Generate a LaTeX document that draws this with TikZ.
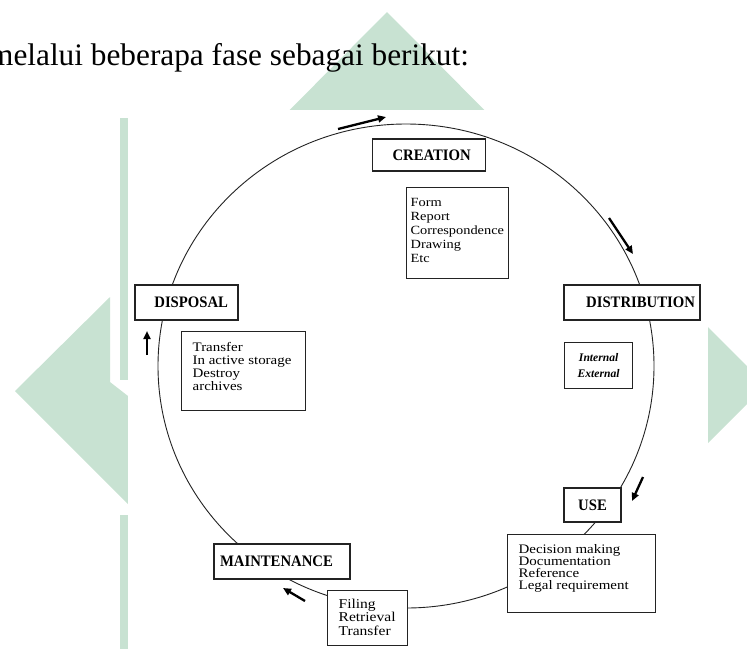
\documentclass[tikz,border=0pt]{standalone}
\usepackage{fontspec}
\setmainfont{Liberation Serif}
\newfontfamily\wideserif[FakeStretch=1.15]{Liberation Serif}
\newfontfamily\narrowserif[FakeStretch=0.92]{Liberation Serif}
\usetikzlibrary{arrows.meta}
\definecolor{wm}{RGB}{200,226,210}
\definecolor{ln}{RGB}{35,35,35}
\newcommand\lbbox[4]{\parbox[c][#1][t]{#2}{\raggedright\vspace*{#3}#4}}
\begin{document}
\begin{tikzpicture}[x=1pt,y=-1pt,
  phase/.style={draw=ln, line width=1.3pt, fill=white, inner ysep=0pt,
    font=\fontsize{16}{16}\narrowserif\bfseries},
  listbox/.style={draw=ln, line width=1.3pt, fill=white, inner ysep=0pt,
    anchor=north west, font=\fontsize{13}{13}\wideserif},
  flow/.style={draw=black, line width=2.3pt, -{Triangle[length=8pt,width=7pt]}},
  cycleline/.style={draw=ln, line width=0.9pt}
]
\useasboundingbox (0,0) rectangle (747,649);
% watermark background
\fill[wm] (387,12) -- (240,160) -- (534,160) -- cycle;
\fill[wm] (700,319) -- (766,385) -- (700,451) -- cycle;
\fill[wm] (110,297) -- (15,391) -- (128,504) -- (128,396) -- (110,382) -- cycle;
\fill[wm] (120,118) rectangle (128,380);
\fill[wm] (120,515) rectangle (128,649);
\fill[white] (128,110) rectangle (708,649);

% intro text
\node[anchor=base west, inner sep=0pt, font=\fontsize{31.3}{36}\selectfont] (intro) at (-11,65)
  {melalui beberapa fase sebagai berikut:};

% cycle
\draw[cycleline] (406,366) ellipse [x radius=248, y radius=242];

% phase boxes
\node[phase, minimum height=32pt, inner xsep=15pt, text width=83pt, align=right] (creation) at (429.3,155) {CREATION};
\node[phase, minimum height=35pt, inner xsep=5pt, text width=126pt, align=right] (distribution) at (632,302.5) {DISTRIBUTION};
\node[phase, minimum height=34pt, minimum width=57pt, inner xsep=0pt] (use) at (592.5,505) {USE};
\node[phase, minimum height=35pt, inner xsep=6pt, text width=124pt, align=left] (maintenance) at (282,561.5) {MAINTENANCE};
\node[phase, minimum height=35pt, inner xsep=10pt, text width=83pt, align=right] (disposal) at (186.5,302.5) {DISPOSAL};

% content boxes
\node[listbox, inner xsep=4pt, font=\fontsize{12.5}{13.9}\wideserif] (forms) at (406,187)
  {\lbbox{91pt}{94pt}{11pt}{Form\\Report\\Correspondence\\Drawing\\Etc}};
\node[listbox, minimum width=68pt, minimum height=46pt, inner xsep=4pt, text width=60pt, align=center,
  font=\fontsize{11.6}{16}\selectfont\bfseries\itshape] (channels) at (564,342)
  {Internal\\External};
\node[listbox, inner xsep=11pt, font=\fontsize{13}{12.2}\wideserif] (purposes) at (507,534)
  {\lbbox{78pt}{126pt}{9.5pt}{Decision making\\Documentation\\Reference\\Legal requirement}};
\node[listbox, inner xsep=11pt, font=\fontsize{13.5}{13.9}\wideserif] (handling) at (327,590)
  {\lbbox{55pt}{58pt}{8pt}{Filing\\Retrieval\\Transfer}};
\node[listbox, inner xsep=11pt, font=\fontsize{13}{13}\wideserif] (final) at (181,331)
  {\lbbox{79pt}{102pt}{10.2pt}{Transfer\\In active storage\\Destroy\\archives}};

% direction arrows
\coordinate (a1s) at (338,129); \coordinate (a1e) at (386,117);
\coordinate (a2s) at (609,218); \coordinate (a2e) at (633,254);
\coordinate (a3s) at (643,477); \coordinate (a3e) at (632,501);
\coordinate (a4s) at (305,601); \coordinate (a4e) at (283,588);
\coordinate (a5s) at (147,355); \coordinate (a5e) at (147,331);
\draw[flow] (a1s) -- (a1e);
\draw[flow] (a2s) -- (a2e);
\draw[flow] (a3s) -- (a3e);
\draw[flow] (a4s) -- (a4e);
\draw[flow] (a5s) -- (a5e);
\end{tikzpicture}
\end{document}
